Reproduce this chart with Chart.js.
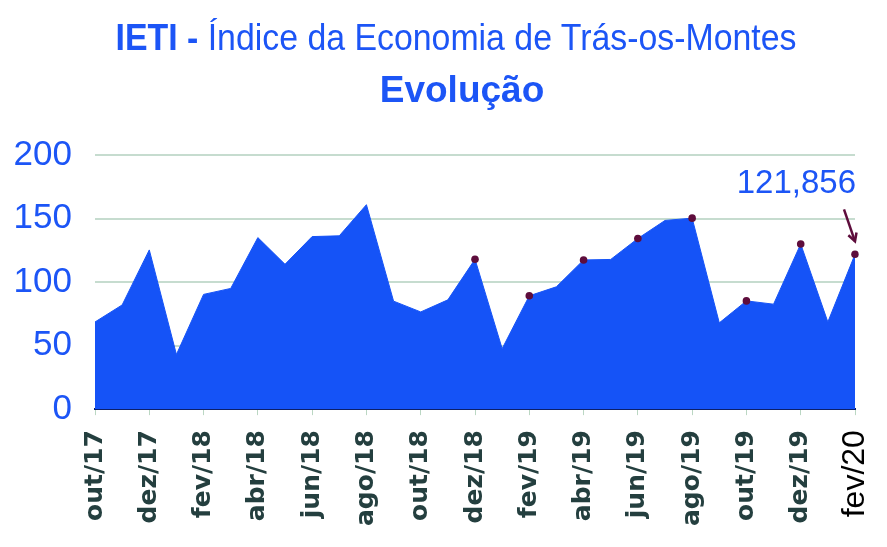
<!DOCTYPE html>
<html>
<head>
<meta charset="utf-8">
<script src="https://cdn.jsdelivr.net/npm/chart.js@4/dist/chart.umd.min.js"></script>
<style>
  html, body { margin: 0; padding: 0; background: #ffffff; }
  #wrap { position: relative; width: 887px; height: 547px; overflow: hidden; }
  #chart { position: absolute; left: 0; top: 0; }
  .t { position: absolute; white-space: nowrap; color: #1c55f6; font-family: "Liberation Sans", Arial, sans-serif; }
  #t1 { left: 456px; top: 19.5px; font-size: 36px; line-height: 36px; transform: translateX(-50%) scaleX(0.94); }
  #t2 { left: 462px; top: 70.5px; font-size: 37px; line-height: 37px; font-weight: bold; transform: translateX(-50%); }
</style>
</head>
<body>
<div id="wrap">
  <canvas id="chart" width="887" height="547"></canvas>
  <div class="t" id="t1"><b>IETI -</b> Índice da Economia de Trás-os-Montes</div>
  <div class="t" id="t2">Evolução</div>
</div>
<script>
const months = ["out/17","nov/17","dez/17","jan/18","fev/18","mar/18","abr/18","mai/18","jun/18","jul/18","ago/18","set/18","out/18","nov/18","dez/18","jan/19","fev/19","mar/19","abr/19","mai/19","jun/19","jul/19","ago/19","set/19","out/19","nov/19","dez/19","jan/20","fev/20"];
const ietiValues = [68.6, 82, 125.3, 43, 90.3, 95, 135, 114, 135.8, 136.4, 160.9, 85, 76.5, 86, 118, 47.6, 89.2, 96.3, 117.4, 117.8, 134.3, 148.5, 150.3, 67.9, 85.2, 82.6, 130, 68.6, 121.856];
const markedMonths = ["dez/18","fev/19","abr/19","jun/19","ago/19","out/19","dez/19","fev/20"];
const yTicks = [0, 50, 100, 150, 200];

const BLUE = '#1553f7';
const TEXT_BLUE = '#1c55f6';
const DOT = '#5e0d3c';

const annotationPlugin = {
  id: 'lastValueNote',
  afterDatasetsDraw(chart) {
    const meta = chart.getDatasetMeta(0);
    const last = meta.data.length - 1;
    const pt = meta.data[last];
    const ctx = chart.ctx;
    const txt = String(ietiValues[last]).replace('.', ',');
    ctx.save();
    ctx.font = '33px "Liberation Sans", Arial, sans-serif';
    ctx.fillStyle = TEXT_BLUE;
    ctx.textAlign = 'right';
    ctx.textBaseline = 'alphabetic';
    ctx.fillText(txt, pt.x + 1, pt.y - 61);
    const x1 = pt.x - 11, y1 = pt.y - 45, x2 = pt.x, y2 = pt.y - 13;
    ctx.strokeStyle = DOT;
    ctx.lineWidth = 2.5;
    ctx.beginPath();
    ctx.moveTo(x1, y1);
    ctx.lineTo(x2, y2);
    ctx.stroke();
    const ang = Math.atan2(y2 - y1, x2 - x1);
    const hl = 9;
    ctx.beginPath();
    ctx.moveTo(x2 - hl * Math.cos(ang - 0.5), y2 - hl * Math.sin(ang - 0.5));
    ctx.lineTo(x2, y2);
    ctx.lineTo(x2 - hl * Math.cos(ang + 0.5), y2 - hl * Math.sin(ang + 0.5));
    ctx.stroke();
    ctx.restore();
  }
};

new Chart(document.getElementById('chart'), {
  type: 'line',
  data: {
    labels: months,
    datasets: [{
      data: ietiValues,
      fill: 'origin',
      backgroundColor: BLUE,
      borderColor: BLUE,
      borderWidth: 1,
      tension: 0,
      pointRadius: (c) => markedMonths.includes(months[c.dataIndex]) ? 3.8 : 0,
      pointBackgroundColor: DOT,
      pointBorderColor: DOT,
      pointBorderWidth: 0,
      pointHoverRadius: 0
    }]
  },
  plugins: [annotationPlugin],
  options: {
    responsive: false,
    animation: false,
    events: [],
    layout: { padding: { left: 14, right: 32, top: 155, bottom: 6 } },
    plugins: { legend: { display: false }, tooltip: { enabled: false }, title: { display: false } },
    scales: {
      x: {
        offset: false,
        afterFit: (s) => { s.paddingLeft = 0; s.paddingRight = 0; },
        grid: {
          drawOnChartArea: false,
          drawTicks: true,
          tickLength: 6,
          color: (c) => (c.index % 2 === 0 ? 'rgba(170,205,180,0.8)' : 'rgba(0,0,0,0)'),
          lineWidth: 1
        },
        border: { display: true, color: '#0d1f66', width: 2 },
        ticks: {
          autoSkip: false,
          maxRotation: 90,
          minRotation: 90,
          padding: 15,
          callback: function (v, i) { return i % 2 === 0 ? months[i] : ''; },
          color: (c) => (c.index === months.length - 1 ? '#000000' : '#243f3f'),
          font: (c) => (c.index === months.length - 1
            ? { family: '"Liberation Sans", Arial, sans-serif', size: 32, weight: 'normal' }
            : { family: '"DejaVu Sans", sans-serif', size: 25, weight: 'bold' })
        }
      },
      y: {
        min: 0,
        max: 200,
        afterBuildTicks: (axis) => { axis.ticks = yTicks.map(v => ({ value: v })); },
        afterFit: (s) => { s.width = 81; },
        grid: { color: '#c6dccf', lineWidth: 2, drawTicks: false },
        border: { display: false },
        ticks: {
          padding: 23,
          color: TEXT_BLUE,
          font: { family: '"Liberation Sans", Arial, sans-serif', size: 35 }
        }
      }
    }
  }
});
</script>
</body>
</html>
